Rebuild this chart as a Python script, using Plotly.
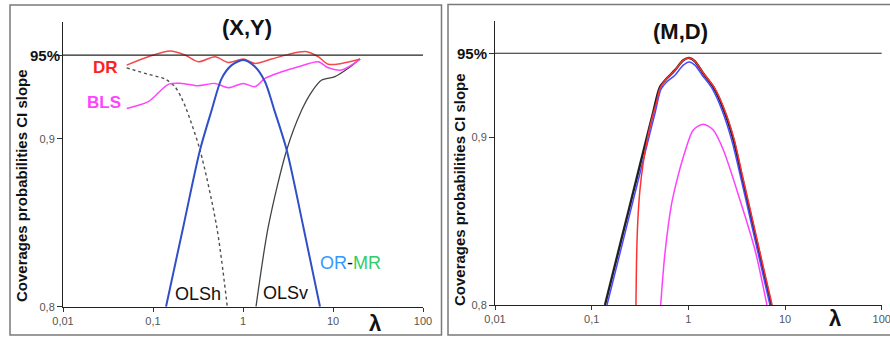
import plotly.graph_objects as go

W, H = 890, 338
FONT = "Arial, Liberation Sans, sans-serif"

# ---------------- Panel (X,Y) data ----------------
lam_dr_xy = [0.051, 0.0887, 0.1545, 0.2268, 0.3187, 0.4886, 0.6866, 1.0077, 1.359, 2.084, 3.186, 5.104, 6.866, 8.867, 12.49, 20.0]
cov_dr_xy = [0.9440, 0.9490, 0.9524, 0.9500, 0.9460, 0.9490, 0.9456, 0.9476, 0.9450, 0.9476, 0.9504, 0.9520, 0.9490, 0.9445, 0.9450, 0.9476]

lam_bls_xy = [0.051, 0.0887, 0.1479, 0.2085, 0.3187, 0.4886, 0.6866, 1.0077, 1.359, 1.756, 2.692, 4.116, 6.866, 8.867, 12.49, 20.0]
cov_bls_xy = [0.9182, 0.9222, 0.9325, 0.9331, 0.9317, 0.9331, 0.9305, 0.9331, 0.9311, 0.9361, 0.9400, 0.9430, 0.9460, 0.9424, 0.9411, 0.9476]

lam_olsh_xy = [0.051, 0.0887, 0.1359, 0.1755, 0.2085, 0.2367, 0.3329, 0.5103, 0.6692]
cov_olsh_xy = [0.9424, 0.9385, 0.9357, 0.9311, 0.9242, 0.9172, 0.8934, 0.8477, 0.8000]

lam_olsv_xy = [1.395, 1.910, 3.059, 4.49, 5.799, 7.489, 10.52, 14.79, 20.0]
cov_olsv_xy = [0.8000, 0.8477, 0.8934, 0.9172, 0.9281, 0.9351, 0.9371, 0.9421, 0.9476]

lam_ormr_xy = [0.1395, 0.2171, 0.3329, 0.4489, 0.5799, 0.7487, 1.0077, 1.359, 1.756, 2.228, 3.059, 4.677, 7.171]
cov_ormr_xy = [0.8000, 0.8477, 0.8934, 0.9172, 0.9361, 0.9440, 0.9470, 0.9430, 0.9341, 0.9172, 0.8934, 0.8477, 0.8000]

# ---------------- Panel (M,D) data ----------------
lam_black_md = [0.1373, 0.2042, 0.2920, 0.3557, 0.4335, 0.5085, 0.5965, 0.7268, 0.8857, 1.0216, 1.170, 1.426, 1.809, 2.296, 2.912, 3.55, 4.34, 5.73, 7.2]
cov_black_md = [0.8000, 0.8397, 0.8755, 0.8953, 0.9150, 0.9299, 0.9349, 0.9399, 0.9458, 0.9472, 0.9452, 0.9379, 0.9299, 0.9171, 0.8990, 0.8773, 0.8553, 0.8249, 0.8000]

lam_blue_md = [0.1441, 0.2144, 0.3066, 0.3735, 0.4552, 0.5200, 0.5965, 0.7268, 0.8857, 1.0216, 1.170, 1.390, 1.760, 2.230, 2.830, 3.44, 4.21, 5.56, 6.98]
cov_blue_md = [0.8000, 0.8397, 0.8755, 0.8953, 0.9150, 0.9285, 0.9329, 0.9369, 0.9429, 0.9448, 0.9429, 0.9369, 0.9290, 0.9160, 0.8975, 0.8773, 0.8553, 0.8249, 0.8000]

lam_red_md = [0.287, 0.292, 0.300, 0.315, 0.340, 0.380, 0.420, 0.470, 0.5085, 0.5965, 0.7268, 0.8857, 1.0216, 1.170, 1.44, 1.84, 2.34, 2.97, 3.62, 4.43, 5.84, 7.35]
cov_red_md = [0.8000, 0.8300, 0.8500, 0.8680, 0.8840, 0.9000, 0.9110, 0.9210, 0.9290, 0.9349, 0.9399, 0.9458, 0.9472, 0.9452, 0.9379, 0.9299, 0.9171, 0.8990, 0.8773, 0.8553, 0.8249, 0.8000]

lam_mag_md = [0.5172, 0.5728, 0.672, 0.786, 0.9222, 1.124, 1.426, 1.809, 2.296, 3.42, 4.89, 6.5]
cov_mag_md = [0.8000, 0.8308, 0.8605, 0.8774, 0.8913, 0.9042, 0.9077, 0.9042, 0.8925, 0.8626, 0.8328, 0.8000]

x_tickvals = [0.01, 0.1, 1, 10, 100]
x_ticktext = ["0,01", "0,1", "1", "10", "100"]
y_tickvals = [0.8, 0.9, 0.95]
y_ticktext = ["0,8", "0,9", ""]

fig = go.Figure()


def add(lam, cov, color, width, ax, dash="solid"):
    fig.add_trace(go.Scatter(
        x=lam, y=cov, mode="lines", xaxis=ax[0], yaxis=ax[1],
        line=dict(color=color, width=width, dash=dash, shape="spline", smoothing=0.8),
        hoverinfo="skip", showlegend=False, cliponaxis=True))


L = ("x", "y")
R = ("x2", "y2")
add(lam_olsh_xy, cov_olsh_xy, "#505050", 1.4, L, dash="dot")
add(lam_olsv_xy, cov_olsv_xy, "#444444", 1.3, L)
add(lam_bls_xy, cov_bls_xy, "#ff44ff", 1.5, L)
add(lam_dr_xy, cov_dr_xy, "#f24a4a", 1.5, L)
add(lam_ormr_xy, cov_ormr_xy, "#3050c8", 2.0, L)

add(lam_black_md, cov_black_md, "#222222", 2.4, R)
add(lam_blue_md, cov_blue_md, "#4a4aff", 1.5, R)
add(lam_red_md, cov_red_md, "#ff3030", 1.5, R)
add(lam_mag_md, cov_mag_md, "#ff40ff", 1.5, R)


def xaxis(domain, anchor):
    return dict(type="log", range=[-2, 2], domain=domain, anchor=anchor,
                tickvals=x_tickvals, ticktext=x_ticktext, ticks="outside", ticklen=4,
                tickcolor="#333", tickwidth=1, showline=True, linecolor="#222", linewidth=1,
                showgrid=False, zeroline=False, automargin=False, ticklabeloverflow="allow",
                tickfont=dict(size=11, color="#555", family=FONT))


def yaxis(domain, anchor, top):
    return dict(range=[0.8, top], domain=domain, anchor=anchor,
                tickvals=y_tickvals, ticktext=y_ticktext, ticks="outside", ticklen=5,
                tickcolor="#333", tickwidth=1, showline=True, linecolor="#222", linewidth=1,
                showgrid=False, zeroline=False, automargin=False,
                tickfont=dict(size=11, color="#555", family=FONT))


fig.update_layout(
    width=W, height=H, autosize=False, template="none",
    margin=dict(l=0, r=0, t=0, b=0, pad=0),
    paper_bgcolor="white", plot_bgcolor="rgba(0,0,0,0)",
    font=dict(family=FONT, color="#111"),
    hovermode=False, showlegend=False,
    xaxis=xaxis([63 / W, 423 / W], "y"),
    yaxis=yaxis([1 - 306.7 / H, 1 - 22 / H], "x", 0.9697),
    xaxis2=xaxis([495 / W, 881.7 / W], "y2"),
    yaxis2=yaxis([1 - 305 / H, 1 - 21 / H], "x2", 0.9692),
)

shapes = [
    dict(type="rect", xref="paper", yref="paper", x0=10 / W, x1=441.5 / W, y0=1 - 335 / H, y1=1 - 5 / H,
         line=dict(color="#7a7a7a", width=1.5)),
    dict(type="rect", xref="paper", yref="paper", x0=448 / W, x1=1.02, y0=1 - 335 / H, y1=1 - 4.5 / H,
         line=dict(color="#7a7a7a", width=1.5)),
    dict(type="line", xref="x domain", yref="y", x0=0, x1=1, y0=0.95, y1=0.95,
         line=dict(color="#222", width=1.2)),
    dict(type="line", xref="x2 domain", yref="y2", x0=0, x1=1, y0=0.95, y1=0.95,
         line=dict(color="#222", width=1.2)),
]
fig.update_layout(shapes=shapes)


def ann(text, px, py, size, color="#111", bold=False, xanchor="center", angle=0):
    t = f"<b>{text}</b>" if bold else text
    fig.add_annotation(text=t, x=px / W, y=1 - py / H, xref="paper", yref="paper",
                       xanchor=xanchor, yanchor="middle", showarrow=False, textangle=angle,
                       font=dict(size=size, color=color, family=FONT))


ann("(X,Y)", 247, 28, 22, bold=True)
ann("(M,D)", 680, 31, 22, bold=True)
ann("95%", 62, 55, 15, bold=True, xanchor="right")
ann("95%", 489, 53, 15, bold=True, xanchor="right")
ann("Coverages probabilities CI slope", 21, 186, 15, bold=True, angle=-90)
ann("Coverages probabilities CI slope", 459, 190, 15, bold=True, angle=-90)
ann("λ", 375, 323, 22, bold=True)
ann("λ", 835, 318, 22, bold=True)
ann("DR", 105, 67, 17, color="#ff2020", bold=True)
ann("BLS", 104, 102, 17, color="#ff44ff", bold=True)
ann("OLSh", 198, 294, 18)
ann("OLSv", 285, 293, 18)
ann("<span style='color:#3399ff'>OR</span>-<span style='color:#33cc66'>MR</span>", 350, 263, 18)

fig.write_html("out.html", config={"displayModeBar": False},
               post_script="document.body.style.margin='0px';document.body.style.overflow='hidden';")
